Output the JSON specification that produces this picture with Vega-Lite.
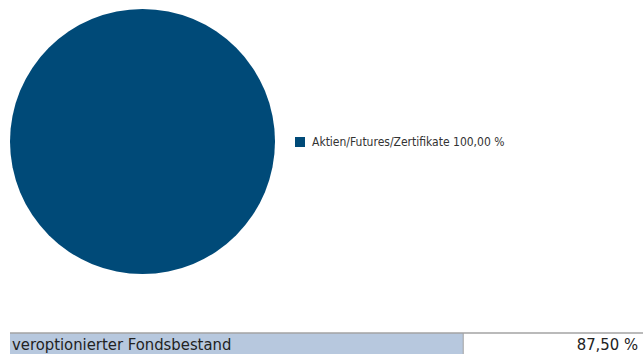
{
  "$schema": "https://vega.github.io/schema/vega-lite/v6.json",
  "background": "white",
  "padding": {"left": 9, "top": 9, "right": 0, "bottom": 0},
  "spacing": 58,
  "config": {
    "view": {"stroke": null},
    "font": "Liberation Sans Narrow, DejaVu Sans Condensed, sans-serif"
  },
  "vconcat": [
    {
      "width": 265,
      "height": 265,
      "data": {"values": [{"category": "Aktien/Futures/Zertifikate", "share": 100}]},
      "transform": [
        {"calculate": "datum.category + ' ' + replace(format(datum.share, '.2f'), '.', ',') + ' %'", "as": "legendLabel"}
      ],
      "mark": {"type": "arc", "stroke": null},
      "encoding": {
        "theta": {"field": "share", "type": "quantitative"},
        "color": {
          "field": "legendLabel",
          "type": "nominal",
          "scale": {"range": ["#004a78"]},
          "legend": {
            "title": null,
            "orient": "none",
            "legendX": 284,
            "legendY": 127,
            "padding": 0,
            "symbolType": "square",
            "symbolSize": 100,
            "symbolStrokeWidth": 0,
            "labelFontSize": 12,
            "labelColor": "#333333",
            "labelOffset": 6,
            "labelLimit": 400
          }
        }
      }
    },
    {
      "width": 634,
      "height": 22,
      "data": {"values": [{"label": "veroptionierter Fondsbestand", "value": 87.5}]},
      "transform": [
        {"calculate": "replace(format(datum.value, '.2f'), '.', ',') + ' %'", "as": "valueLabel"}
      ],
      "layer": [
        {
          "mark": {"type": "rect", "color": "#b7c8de"},
          "encoding": {
            "x": {"field": "value", "type": "quantitative", "scale": {"domain": [0, 122.4], "nice": false}, "axis": null},
            "x2": {"datum": 0},
            "y": {"datum": 0, "type": "quantitative", "scale": {"domain": [0, 1], "nice": false}, "axis": null},
            "y2": {"datum": 1}
          }
        },
        {
          "mark": {"type": "rule", "color": "#a3a3a3", "strokeWidth": 1.5},
          "encoding": {
            "x": {"datum": 0, "type": "quantitative"},
            "x2": {"datum": 122.4},
            "y": {"datum": 1, "type": "quantitative"}
          }
        },
        {
          "mark": {"type": "rule", "color": "#a3a3a3", "strokeWidth": 1},
          "encoding": {
            "x": {"field": "value", "type": "quantitative"},
            "y": {"datum": 0, "type": "quantitative"},
            "y2": {"datum": 1}
          }
        },
        {
          "mark": {"type": "text", "align": "left", "baseline": "middle", "dx": 2, "fontSize": 16.5, "color": "#222222"},
          "encoding": {
            "x": {"datum": 0, "type": "quantitative"},
            "y": {"datum": 0.45, "type": "quantitative"},
            "text": {"field": "label"}
          }
        },
        {
          "mark": {"type": "text", "align": "right", "baseline": "middle", "dx": -6, "fontSize": 16.5, "color": "#222222"},
          "encoding": {
            "x": {"datum": 122.4, "type": "quantitative"},
            "y": {"datum": 0.45, "type": "quantitative"},
            "text": {"field": "valueLabel"}
          }
        }
      ]
    }
  ]
}
